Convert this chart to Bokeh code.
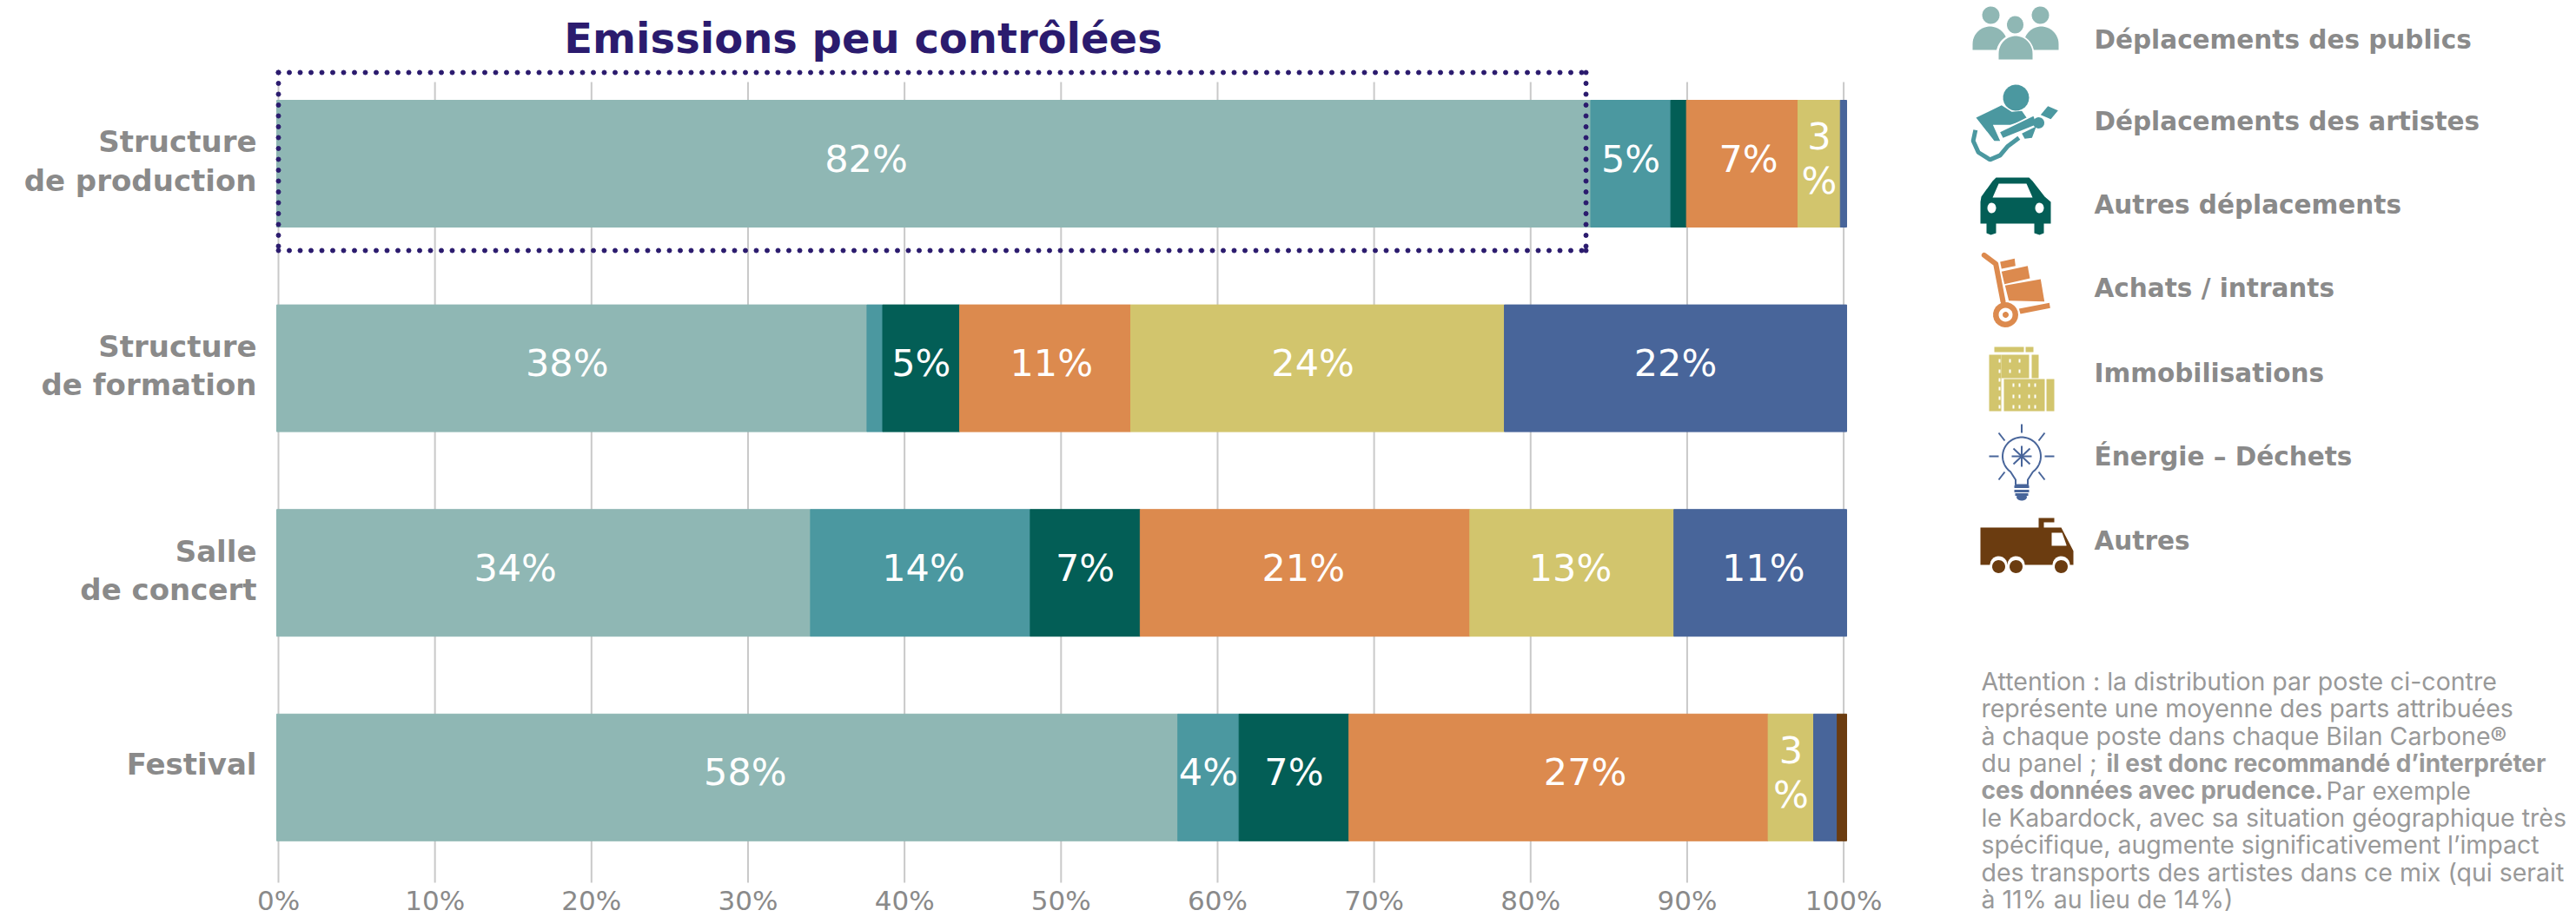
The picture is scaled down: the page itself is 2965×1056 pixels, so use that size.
from bokeh.plotting import figure
from bokeh.models import Range1d, LinearAxis, FixedTicker
from bokeh.embed import file_html
from bokeh.resources import INLINE
from bokeh.core.properties import value
import numpy as np

categories = ["Structure\nde production", "Structure\nde formation", "Salle\nde concert", "Festival"]
series_names = ["Déplacements des publics", "Déplacements des artistes", "Autres déplacements",
                "Achats / intrants", "Immobilisations", "Énergie – Déchets", "Autres"]
colors = ["#8fb7b4", "#4b98a0", "#035e56", "#dc8a4e", "#d2c56d", "#48659a", "#6b3c10"]
publics = [83.7, 37.6, 34.0, 57.4]
artistes = [5.1, 1.0, 14.0, 3.9]
autres_depl = [1.0, 4.9, 7.0, 7.0]
achats = [7.1, 10.9, 21.0, 26.7]
immob = [2.7, 23.8, 13.0, 2.9]
energie = [0.4, 21.8, 11.0, 1.5]
autres = [0.0, 0.0, 0.0, 0.6]
seg_labels = [["82%", "5%", "", "7%", "3\n%", "", ""],
              ["38%", "", "5%", "11%", "24%", "22%", ""],
              ["34%", "14%", "7%", "21%", "13%", "11%", ""],
              ["58%", "4%", "7%", "27%", "3\n%", "", ""]]
ticks = [0, 10, 20, 30, 40, 50, 60, 70, 80, 90, 100]
tick_labels = {t: f"{t}%" for t in ticks}
title = "Emissions peu contrôlées"

# the reference's labels are not all centred on their segments: shift, in bar percent
label_shift = [[-4.3, 0, 0, 0.4, 0, 0, 0],
               [-0.3, 0, 0, 0.4, -0.3, 0, 0],
               [-1.8, 0.2, 0, -0.1, -0.1, 0.2, 0],
               [1.15, 0, 0, 1.7, 0, 0, 0]]

W, H = 2965, 1056
O = 0
FONT = "DejaVu Sans"
GRAY = "#8a8a8a"
# page pixel -> axis percent / bar percent / row index
ax = lambda px: (px - 320) / 18.016
br = lambda px: (px - 318) / 18.07
rw = lambda py: (py - 188) / 235.6

p = figure(width=W, height=H, output_backend="svg", toolbar_location=None,
           x_range=Range1d(ax(O), ax(O + W)), y_range=Range1d(rw(O + H), rw(O)),
           min_border=0, x_axis_type=None, y_axis_type=None)
p.outline_line_color = None
p.grid.visible = False
p.extra_x_ranges = {"px": Range1d(O, O + W), "bar": Range1d(br(O), br(O + W))}
p.extra_y_ranges = {"px": Range1d(O + H, O)}
px = dict(x_range_name="px", y_range_name="px")

# gridlines
p.segment(x0=ticks, x1=ticks, y0=[rw(94)] * 11, y1=[rw(1016)] * 11, line_color="#c9c9c9", line_width=2)

# axis
axis = LinearAxis(ticker=FixedTicker(ticks=ticks), major_label_overrides=tick_labels,
                  fixed_location=rw(1012), axis_line_color=None, major_tick_line_color=None,
                  minor_tick_line_color=None, major_label_text_color=GRAY,
                  major_label_text_font=FONT, major_label_text_font_size="31px", major_label_standoff=0)
p.add_layout(axis, "below")

# stacked bars
rows = list(range(len(categories)))
stack = np.array([publics, artistes, autres_depl, achats, immob, energie, autres])
left = np.zeros(len(rows))
for k, vals in enumerate(stack):
    right = left + vals
    nz = [i for i in rows if vals[i] > 0]
    p.hbar(y=nz, height=146 / 235.6, left=left[nz], right=right[nz], color=colors[k], x_range_name="bar")
    lab = [i for i in rows if seg_labels[i][k]]
    shift = np.array([label_shift[i][k] for i in lab])
    p.text(x=(left[lab] + right[lab]) / 2 + shift, y=lab, text=[seg_labels[i][k] for i in lab], x_range_name="bar",
           text_color="white", text_font=value(FONT), text_font_size="43px", text_align="center",
           text_baseline="middle", text_line_height=1.02, y_offset=-6)
    left = right

# category labels
p.text(x=[295] * 4, y=rows, text=categories, text_align="right", text_baseline="middle",
       text_color=GRAY, text_font=value(FONT), text_font_style="bold", text_font_size="34px",
       text_line_height=1.11, x_range_name="px", y_offset=[-3, -3, -3, -15])

# title and dotted frame
p.text(x=[993], y=[43], text=[title], text_align="center", text_baseline="middle", text_color="#2b1b6e",
       text_font=value(FONT), text_font_style="bold", text_font_size="48px", **px)
dots_h = np.arange(320, 1825, 12.5)
dots_v = np.arange(83, 288, 12.5)
p.scatter(x=np.r_[dots_h, dots_h, np.full(dots_v.size, 320), np.full(dots_v.size, 1825), 1825],
          y=np.r_[np.full(dots_h.size, 83), np.full(dots_h.size, 288), dots_v, dots_v, 288],
          size=5, color="#2b1b6e", **px)

# legend labels
leg_y = [45, 139, 235, 331, 429, 525, 622]
p.text(x=[2410] * 7, y=leg_y, text=series_names, text_baseline="middle", text_color=GRAY,
       text_font=value(FONT), text_font_style="bold", text_font_size="29.5px", **px)


def dome(x0, x1, yt, yb):
    t = np.linspace(np.pi, 0, 24)
    cx, rx = (x0 + x1) / 2, (x1 - x0) / 2
    ry = (yb - yt) * 0.75
    return list(cx + rx * np.cos(t)) + [x1, x0], list(yt + ry - ry * np.sin(t)) + [yb, yb]


def circ(cx, cy, rx, ry=None, n=24):
    ry = rx if ry is None else ry
    t = np.linspace(0, 2 * np.pi, n)
    return list(cx + rx * np.cos(t)), list(cy + ry * np.sin(t))


def fill(shapes, color):
    p.patches(xs=[s[0] for s in shapes], ys=[s[1] for s in shapes], fill_color=color, line_color=None, **px)


def zoomed(pts, ox, oy):
    return [ox + a / 3 for a, _ in pts], [oy + b / 3 for _, b in pts]


# --- icon: publics
fill([circ(2291, 17, 10, 10), circ(2348, 17, 10, 10), circ(2319, 28, 9.5, 10),
      dome(2270, 2310, 30, 57), dome(2329, 2369, 30, 57)], colors[0])
xs, ys = dome(2297, 2341, 39, 70)
p.patch(xs, ys, fill_color="white", line_color=None, **px)
fill([dome(2300, 2339, 41, 68)], colors[0])

# --- icon: artist
c = colors[1]
G = lambda pts: zoomed(pts, 2260, 90)
fill([circ(2320, 112, 15, 15),
      G([(42, 135), (130, 92), (165, 115), (200, 112), (220, 140), (160, 160), (100, 160), (125, 215), (105, 215)]),
      G([(200, 190), (250, 165), (235, 205), (210, 208)])], c)
p.line(*G([(125, 200), (285, 118)]), line_color="white", line_width=11, **px)
fill([G([(125, 185), (240, 130), (250, 158), (135, 205)]),
      circ(2346, 141, 6.5, 6.5),
      G([(265, 125), (290, 95), (325, 110), (300, 140)])], c)
p.line(*G([(40, 178), (32, 215), (50, 255), (90, 280), (125, 265), (150, 235), (190, 205)]),
       line_color=c, line_width=5, **px)

# --- icon: car
c = colors[2]
fill([([2280, 2293, 2297, 2335, 2339, 2353, 2360, 2360, 2279, 2279],
       [226, 208, 204, 204, 208, 226, 232, 257, 257, 232]),
      ([2286, 2297, 2297, 2291, 2286], [255, 255, 268, 270, 268]),
      ([2341, 2352, 2352, 2347, 2341], [255, 255, 268, 270, 268])], c)
fill([([2293, 2300, 2332, 2339], [227, 211, 211, 227]), circ(2292, 239, 5, 6), circ(2347, 239, 5, 6)], "white")

# --- icon: trolley
c = colors[3]
T = lambda pts: zoomed(pts, 2260, 285)
fill([T([(125, 48), (175, 37), (178, 62), (130, 72)]),
      T([(130, 82), (220, 62), (228, 105), (140, 125)]),
      T([(142, 130), (265, 108), (278, 185), (155, 182)]),
      T([(190, 210), (295, 190), (298, 208), (195, 228)]),
      circ(2308, 362, 14.5, 14.5)], c)
p.line(*T([(70, 25), (110, 55), (135, 185)]), line_color=c, line_width=6, line_cap="round", line_join="round", **px)
fill([circ(2308, 362, 8, 8)], "white")
fill([circ(2308, 362, 3.5, 3.5)], c)

# --- icon: buildings
c = colors[4]
rects = [(2295, 2329, 399, 405), (2331, 2340, 399, 405), (2289, 2303, 408, 473), (2303, 2335, 408, 435),
         (2338, 2346, 408, 435), (2306, 2353, 436, 473), (2355, 2364, 436, 473)]
fill([([a, b, b, a], [t_, t_, e, e]) for a, b, t_, e in rects], c)
wx = [2300, 2312, 2323]
win = [([a, a + 2, a + 2, a], [y, y, y + 4, y + 4]) for a in wx for y in (413, 425)]
win += [([a, a + 2, a + 2, a], [y, y, y + 4, y + 4]) for a in (2316, 2323, 2334, 2341) for y in (441, 454, 466)]
win += [([2300, 2302, 2302, 2300], [y, y, y + 4, y + 4]) for y in (435, 445, 456, 466)]
fill(win, "white")

# --- icon: bulb
c = colors[5]
t = np.linspace(-np.pi * 0.3, np.pi * 1.3, 40)
bx = list(2326.5 + 22 * np.cos(t)) + [2319.5, 2319.5, 2333.5, 2333.5]
by = list(525 - 22 * np.sin(t)) + [552, 558, 558, 552]
bx += [bx[0]]
by += [by[0]]
p.line(x=bx, y=by, line_color=c, line_width=2, **px)
rays = [(2326.5, 488, 2326.5, 498), (2300, 498, 2307, 507), (2353, 498, 2346, 507), (2289, 525, 2300, 525),
        (2353, 525, 2364, 525), (2300, 552, 2307, 543), (2353, 552, 2346, 543),
        (2326.5, 513, 2326.5, 537), (2317, 516, 2336, 534), (2336, 516, 2317, 534), (2315, 525, 2338, 525)]
p.segment(x0=[r[0] for r in rays], y0=[r[1] for r in rays], x1=[r[2] for r in rays], y1=[r[3] for r in rays],
          line_color=c, line_width=2, **px)
p.segment(x0=[2318, 2318, 2319], y0=[560, 565, 569], x1=[2335, 2335, 2334], y1=[560, 565, 569],
          line_color=c, line_width=3, **px)
fill([circ(2326.5, 572, 6, 4)], c)

# --- icon: truck
c = colors[6]
fill([([2279, 2346, 2346, 2364, 2364, 2352, 2352, 2372, 2386, 2386, 2279],
       [607, 607, 596, 596, 601, 601, 607, 607, 634, 650, 650])], c)
fill([([2361, 2373, 2378, 2378, 2361], [613, 613, 627, 628, 628]),
      circ(2300, 650, 10, 10), circ(2320, 650, 10, 10), circ(2372, 650, 10, 10),
      ([2290, 2330, 2330, 2290], [650, 650, 665, 665]), ([2351, 2395, 2395, 2351], [651, 651, 665, 665])], "white")
fill([circ(2300, 652, 7.5, 7.5), circ(2320, 652, 7.5, 7.5), circ(2372, 652, 7.5, 7.5)], c)

# note
note = ["Attention : la distribution par poste ci-contre", "représente une moyenne des parts attribuées",
        "à chaque poste dans chaque Bilan Carbone®", "du panel ; ", "",
        "le Kabardock, avec sa situation géographique très",
        "spécifique, augmente significativement l’impact",
        "des transports des artistes dans ce mix (qui serait", "à 11% au lieu de 14%)"]
note_y = [784 + 31.4 * i for i in range(9)]
NOTE = dict(text_baseline="middle", text_color="#999999", text_font=value("Inter"), text_font_size="28.5px", **px)
p.text(x=[2280] * 9, y=note_y, text=note, **NOTE)
p.text(x=[2677], y=[note_y[4]], text=["Par exemple"], **NOTE)
NB = dict(NOTE)
NB["text_font_size"] = "28px"
p.text(x=[2424, 2280], y=[note_y[3], note_y[4]],
       text=["il est donc recommandé d’interpréter", "ces données avec prudence."],
       text_font_style="bold", **NB)

open("out.html", "w").write(file_html(p, INLINE))
